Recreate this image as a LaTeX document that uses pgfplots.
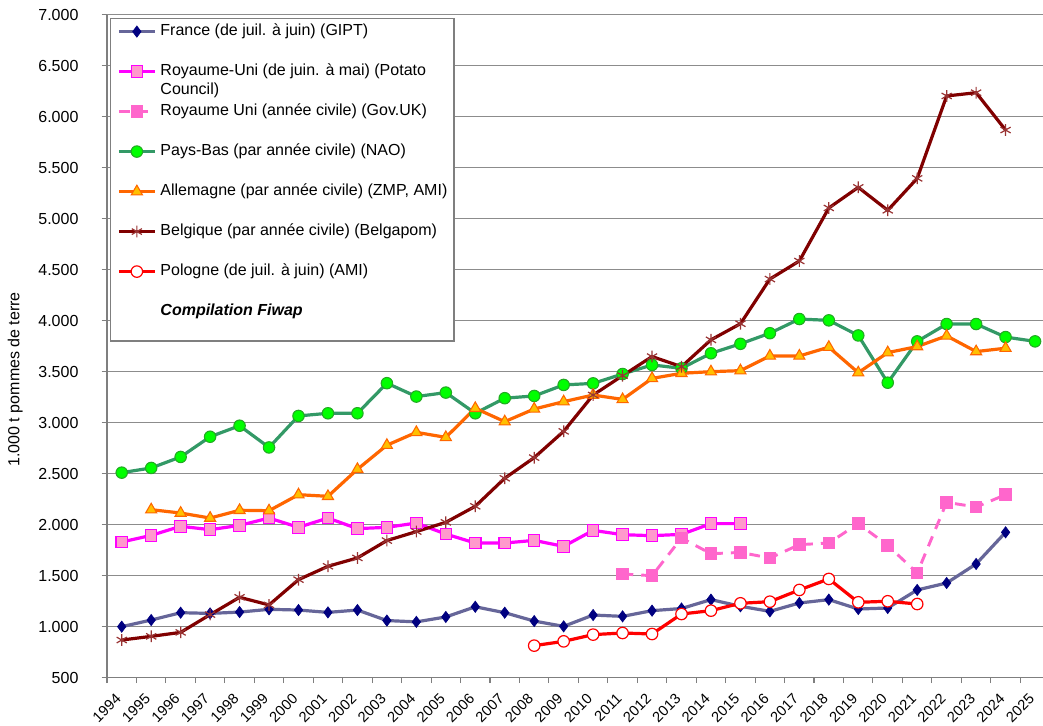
\documentclass[border=0pt]{standalone}
\usepackage{fontspec}
\setmainfont{Liberation Sans}
\usepackage{pgfplots}
\pgfplotsset{compat=1.18}
\definecolor{fr}{HTML}{666699}
\definecolor{frm}{HTML}{000080}
\definecolor{ukl}{HTML}{FF00FF}
\definecolor{ukf}{HTML}{FF99CC}
\definecolor{ukg}{HTML}{FF66CC}
\definecolor{nll}{HTML}{339966}
\definecolor{nlf}{HTML}{00FF00}
\definecolor{nld}{HTML}{22AA22}
\definecolor{del}{HTML}{FF6600}
\definecolor{def}{HTML}{FFC000}
\definecolor{bel}{HTML}{800000}
\definecolor{bem}{HTML}{993333}
\definecolor{pll}{HTML}{FF0000}
\definecolor{gridc}{HTML}{8C8C8C}
\definecolor{axc}{HTML}{7F7F7F}
\begin{document}
\begin{tikzpicture}
\begin{axis}[
  at={(0pt,0pt)}, anchor=south west,
  scale only axis, width=702pt, height=497.25pt,
  xmin=1993.5, xmax=2025.27, ymin=500, ymax=7000,
  axis x line=bottom, axis y line=left,
  axis line style={-, draw=axc, line width=0.9pt},
  tick align=outside, major tick length=4pt,
  tick style={draw=axc, line width=0.8pt},
  xtick={1993.5,1994.5,...,2024.5}, xticklabels={},
  extra x ticks={1994,1995,...,2025},
  extra x tick labels={1994,1995,1996,1997,1998,1999,2000,2001,2002,2003,2004,2005,2006,2007,2008,2009,2010,2011,2012,2013,2014,2015,2016,2017,2018,2019,2020,2021,2022,2023,2024,2025},
  extra x tick style={major tick length=0pt},
  xticklabel style={xshift=-2.5pt, yshift=-14pt, rotate=45, anchor=east, inner sep=0pt, font=\fontsize{11}{13}\selectfont},
  ytick={500,1000,...,7000},
  scaled y ticks=false,
  yticklabel style={inner sep=0pt, xshift=-17.25pt, anchor=east, font=\fontsize{12}{14}\selectfont, /pgf/number format/1000 sep={.}, /pgf/number format/fixed, /pgf/number format/assume math mode=true},
  ymajorgrids, major grid style={draw=gridc, line width=0.8pt},
  ylabel={1.000 t pommes de terre},
  ylabel style={at={(axis description cs:-0.098,0.45)}, anchor=center, font=\fontsize{12}{14}\selectfont},
  legend cell align=left,
  legend style={at={(0.0032,0.9955)}, anchor=north west, draw=axc, line width=0.9pt, fill=white,
    inner xsep=5pt, inner ysep=4pt, row sep=18pt, column sep=3pt,
    font=\fontsize{12}{14}\selectfont,
    nodes={inner sep=0pt, text height=9pt, text depth=3pt}},
  legend image code/.code={\draw[mark repeat=2,mark phase=2] plot coordinates {(0pt,0pt) (13.5pt,0pt) (27pt,0pt)};},
]
\addplot[color=fr, line width=2.4pt, mark=diamond*, mark size=4.2pt, mark options={solid, fill=frm, draw=frm, line width=0.5pt}] coordinates {
(1994,1000) (1995,1065) (1996,1137) (1997,1130) (1998,1143) (1999,1170) (2000,1163) (2001,1140) (2002,1163) (2003,1060) (2004,1047) (2005,1095) (2006,1195) (2007,1137) (2008,1055) (2009,1003) (2010,1114) (2011,1101) (2012,1157) (2013,1178) (2014,1265) (2015,1200) (2016,1150) (2017,1232) (2018,1265) (2019,1173) (2020,1183) (2021,1360) (2022,1428) (2023,1615) (2024,1925)};
\addlegendentry{France (de juil. à juin) (GIPT)}
\addplot[color=ukl, line width=2.4pt, mark=square*, mark size=4.3pt, mark options={solid, fill=ukf, draw=ukl, line width=0.8pt}] coordinates {
(1994,1830) (1995,1895) (1996,1984) (1997,1951) (1998,1993) (1999,2065) (2000,1974) (2001,2065) (2002,1961) (2003,1974) (2004,2016) (2005,1908) (2006,1820) (2007,1820) (2008,1846) (2009,1787) (2010,1944) (2011,1902) (2012,1892) (2013,1905) (2014,2010) (2015,2010)};
\addlegendentry{\begin{tabular}[t]{@{}l@{}}Royaume-Uni (de juin. à mai) (Potato\\Council)\end{tabular}}
\addplot[color=ukg, line width=2.2pt, dash pattern=on 8pt off 6pt, mark=square*, mark size=4.3pt, mark options={solid, fill=ukg, draw=ukg, line width=0.8pt}] coordinates {
(2011,1516) (2012,1500) (2013,1869) (2014,1715) (2015,1728) (2016,1673) (2017,1804) (2018,1820) (2019,2010) (2020,1797) (2021,1526) (2022,2219) (2023,2173) (2024,2294)};
\addlegendentry{Royaume Uni (année civile) (Gov.UK)}
\addplot[color=nll, line width=2.4pt, mark=*, mark size=4.3pt, mark options={solid, fill=nlf, draw=nld, line width=0.8pt}] coordinates {
(1994,2510) (1995,2556) (1996,2664) (1997,2862) (1998,2970) (1999,2757) (2000,3066) (2001,3092) (2002,3092) (2003,3387) (2004,3256) (2005,3295) (2006,3092) (2007,3240) (2008,3262) (2009,3370) (2010,3385) (2011,3477) (2012,3566) (2013,3533) (2014,3680) (2015,3773) (2016,3877) (2017,4016) (2018,4003) (2019,3855) (2020,3392) (2021,3797) (2022,3967) (2023,3967) (2024,3839) (2025,3797)};
\addlegendentry{Pays-Bas (par année civile) (NAO)}
\addplot[color=del, line width=2.4pt, mark=triangle*, mark size=4.8pt, mark options={solid, fill=def, draw=del, line width=0.8pt}] coordinates {
(1995,2147) (1996,2114) (1997,2065) (1998,2141) (1999,2137) (2000,2294) (2001,2278) (2002,2543) (2003,2779) (2004,2905) (2005,2856) (2006,3141) (2007,3010) (2008,3134) (2009,3206) (2010,3271) (2011,3228) (2012,3434) (2013,3484) (2014,3500) (2015,3510) (2016,3654) (2017,3654) (2018,3740) (2019,3490) (2020,3687) (2021,3746) (2022,3851) (2023,3697) (2024,3730)};
\addlegendentry{Allemagne (par année civile) (ZMP, AMI)}
\addplot[color=bel, line width=2.4pt, mark=asterisk, mark size=4.4pt, mark options={solid, draw=bem, line width=0.9pt}] coordinates {
(1994,869) (1995,905) (1996,944) (1997,1118) (1998,1288) (1999,1213) (2000,1461) (2001,1592) (2002,1674) (2003,1844) (2004,1932) (2005,2023) (2006,2180) (2007,2455) (2008,2657) (2009,2915) (2010,3271) (2011,3461) (2012,3648) (2013,3549) (2014,3812) (2015,3970) (2016,4408) (2017,4585) (2018,5105) (2019,5307) (2020,5082) (2021,5395) (2022,6203) (2023,6235) (2024,5869)};
\addlegendentry{Belgique (par année civile) (Belgapom)}
\addplot[color=pll, line width=2.4pt, mark=*, mark size=4.3pt, mark options={solid, fill=white, draw=pll, line width=0.9pt}] coordinates {
(2008,814) (2009,856) (2010,922) (2011,938) (2012,928) (2013,1124) (2014,1157) (2015,1229) (2016,1245) (2017,1360) (2018,1468) (2019,1239) (2020,1249) (2021,1222)};
\addlegendentry{Pologne (de juil. à juin) (AMI)}
\addlegendimage{empty legend}
\addlegendentry[text depth=15pt]{\textbf{\textit{Compilation Fiwap}}}
\coordinate (LL) at (rel axis cs:0,0);
\coordinate (UR) at (rel axis cs:1,1);
\end{axis}
\pgfresetboundingbox
\path[use as bounding box] ([shift={(-80.25pt,-36.2pt)}]LL) rectangle ([shift={(0pt,11pt)}]UR);
\end{tikzpicture}
\end{document}
